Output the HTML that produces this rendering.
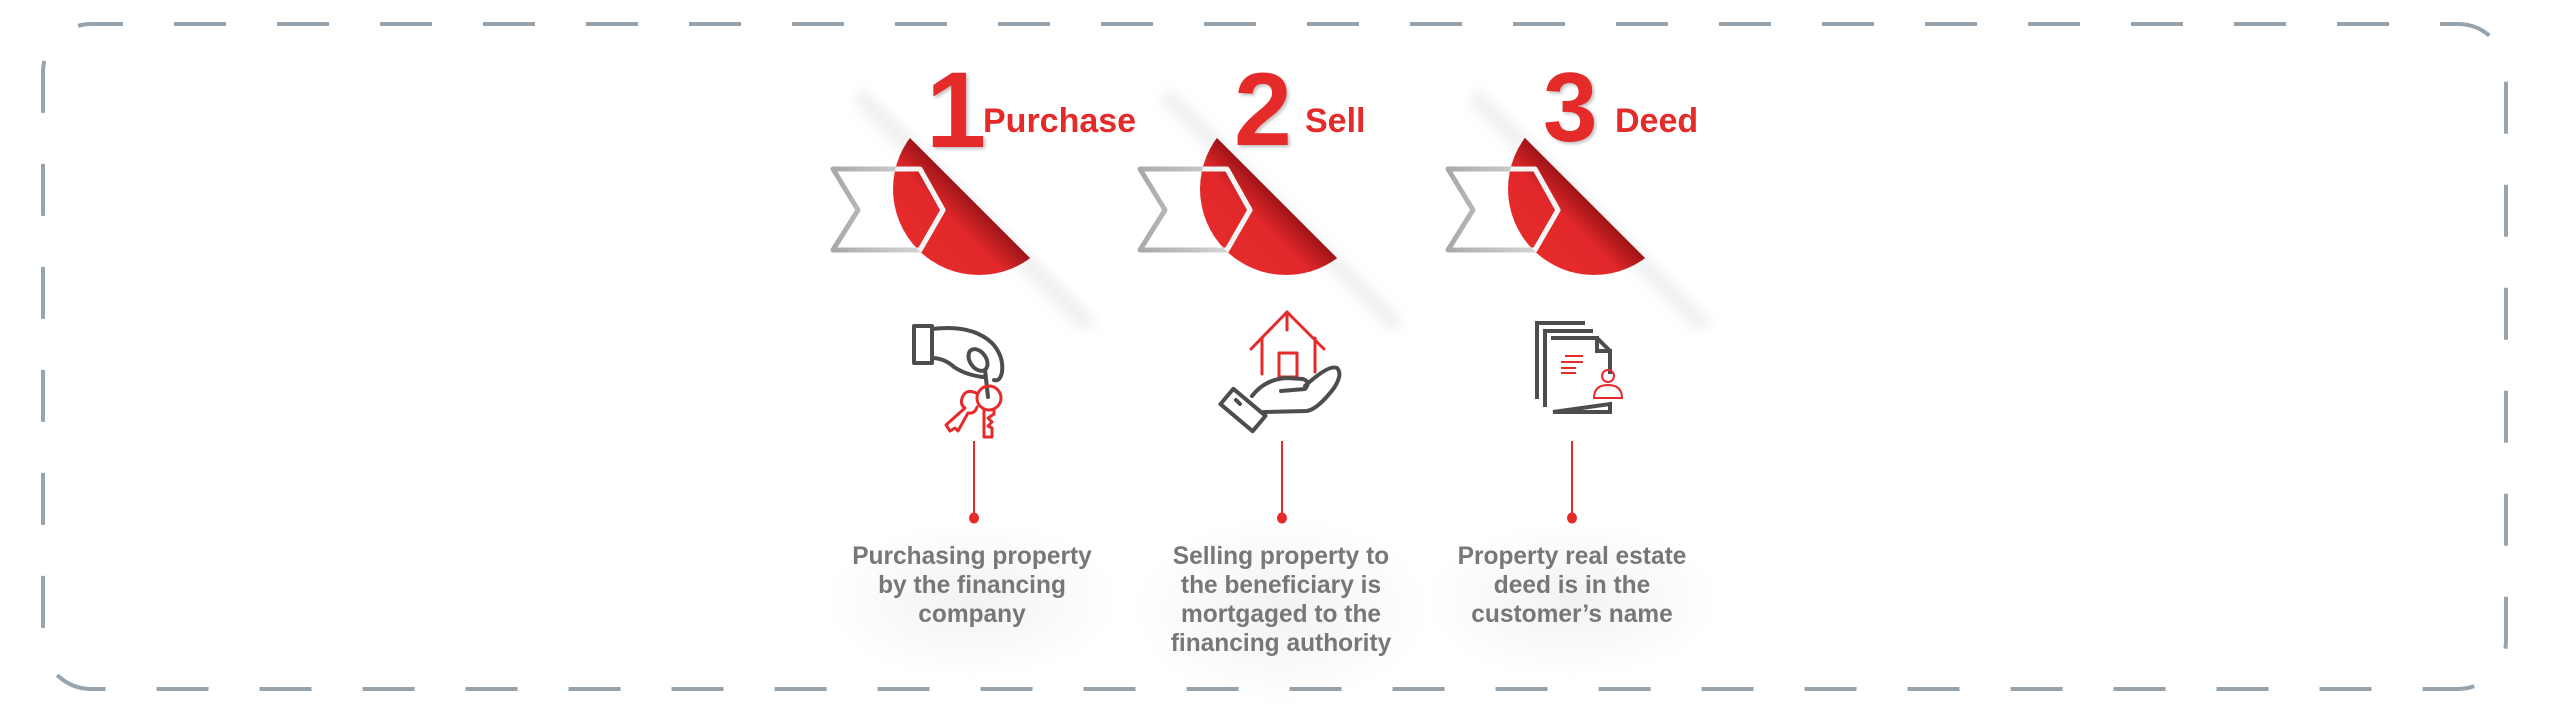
<!DOCTYPE html>
<html><head><meta charset="utf-8">
<style>
html,body{margin:0;padding:0;background:#fff;}
svg{display:block;}
text{font-family:"Liberation Sans",Arial,sans-serif;}
</style></head>
<body>
<svg width="2551" height="717" viewBox="0 0 2551 717" xmlns="http://www.w3.org/2000/svg">
<defs>
  <linearGradient id="redg" gradientUnits="userSpaceOnUse" x1="1000" y1="228" x2="955" y2="273">
    <stop offset="0" stop-color="#9e1418"/>
    <stop offset="0.45" stop-color="#e2282a"/>
    <stop offset="1" stop-color="#e52a2a"/>
  </linearGradient>
  <linearGradient id="shad" gradientUnits="userSpaceOnUse" x1="980" y1="208" x2="962" y2="226">
    <stop offset="0" stop-color="#c4c4c4" stop-opacity="0.7"/>
    <stop offset="1" stop-color="#ffffff" stop-opacity="0"/>
  </linearGradient>
  <linearGradient id="chev" gradientUnits="userSpaceOnUse" x1="833" y1="0" x2="943" y2="0">
    <stop offset="0" stop-color="#a9a9a9"/>
    <stop offset="1" stop-color="#e0e0e0"/>
  </linearGradient>
  <clipPath id="half"><polygon points="790,18 1160,388 790,388"/></clipPath>
  <clipPath id="circ"><circle cx="979" cy="189" r="86"/></clipPath>
  <radialGradient id="glow">
    <stop offset="0" stop-color="#000" stop-opacity="0.05"/>
    <stop offset="1" stop-color="#000" stop-opacity="0"/>
  </radialGradient>
  <filter id="ds" x="-20%" y="-20%" width="140%" height="140%">
    <feDropShadow dx="2" dy="2" stdDeviation="1.5" flood-color="#000" flood-opacity="0.25"/>
  </filter>
  <filter id="blur"><feGaussianBlur stdDeviation="6"/></filter>

  <g id="badge">
    <polygon points="862,90 1095,323 1077,341 844,108" fill="url(#shad)" filter="url(#blur)" opacity="0.7"/>
    <g clip-path="url(#half)">
      <circle cx="979" cy="189" r="86" fill="url(#redg)"/>
    </g>
    <path d="M833,169 L920,169 L943,210 L920,250 L833,250 L858,210 Z" fill="none" stroke="url(#chev)" stroke-width="5" stroke-linejoin="round"/>
    <g clip-path="url(#circ)">
      <g clip-path="url(#half)">
        <path d="M833,169 L920,169 L943,210 L920,250 L833,250 L858,210 Z" fill="none" stroke="#f4f4f4" stroke-width="5" stroke-linejoin="round"/>
      </g>
    </g>
  </g>
</defs>

<rect x="43" y="24" width="2463" height="665" rx="48" ry="48" fill="none" stroke="#97a3ad" stroke-width="4" stroke-dasharray="52 51" stroke-dashoffset="20"/>

<use href="#badge"/>
<use href="#badge" transform="translate(307,0)"/>
<use href="#badge" transform="translate(615,0)"/>

<g fill="#e52a2a" font-weight="bold">
  <text x="926" y="147" font-size="108" filter="url(#ds)">1</text>
  <text x="983" y="132" font-size="34">Purchase</text>
  <text x="1234" y="145" font-size="104" filter="url(#ds)">2</text>
  <text x="1305" y="132" font-size="34">Sell</text>
  <text x="1543" y="141" font-size="98" filter="url(#ds)">3</text>
  <text x="1615" y="132" font-size="34">Deed</text>
</g>

<g fill="none" stroke-linecap="round" stroke-linejoin="round">
  <g stroke="#4d4d4d" stroke-width="4">
    <rect x="914" y="326" width="18" height="37"/>
    <path d="M932,329 Q972,324 992,343 Q1004,356 1002,372 Q1000,382 994,380"/>
    <path d="M932,358 Q944,358 954,367 Q966,375 983,377"/>
    <ellipse cx="978" cy="360" rx="8" ry="12" transform="rotate(-35 978 360)"/>
    <line x1="985" y1="370" x2="988" y2="397"/>
  </g>
  <g stroke="#e52a2a" stroke-width="3">
    <circle cx="989" cy="398" r="12"/>
    <path d="M984,409 L984,437 L992,437 L992,428 L988,426 L992,422 L988,418 L994,414 L994,409"/>
    <path d="M976,393 Q966,388 962,398 Q960,405 965,408 L946,425 L950,431 L955,428 L958,431 L968,413 Q975,414 977,407"/>
  </g>
</g>

<g fill="none" stroke-linecap="round" stroke-linejoin="round">
  <g stroke="#e52a2a" stroke-width="3">
    <polyline points="1251,349 1287,312 1324,349"/>
    <line x1="1287" y1="312" x2="1287" y2="330"/>
    <line x1="1262" y1="338" x2="1262" y2="374"/>
    <line x1="1315" y1="338" x2="1315" y2="372"/>
    <rect x="1279" y="353" width="18" height="24"/>
  </g>
  <g stroke="#4d4d4d" stroke-width="4">
    <rect x="1222" y="400" width="42" height="20" transform="rotate(40 1243 410)"/>
    <line x1="1236" y1="400" x2="1240" y2="404"/>
    <path d="M1252,396 Q1265,379 1287,378 L1303,379 Q1311,382 1305,389 L1281,391"/>
    <path d="M1264,412 L1307,411 Q1318,409 1334,388 Q1343,374 1337,368 Q1329,364 1305,386"/>
  </g>
</g>

<g fill="none" stroke-linecap="square">
  <g stroke="#4d4d4d" stroke-width="4">
    <polyline points="1583,323 1537,323 1537,397"/>
    <polyline points="1591,331 1545,331 1545,405"/>
    <path d="M1553,338 L1597,338 L1610,351 L1610,372 M1610,404 L1610,412 L1553,412 Z M1597,338 L1597,351 L1610,351"/>
  </g>
  <g stroke="#e52a2a" stroke-width="2">
    <line x1="1566" y1="356" x2="1582" y2="356"/>
    <line x1="1562" y1="362" x2="1582" y2="362"/>
    <line x1="1562" y1="368" x2="1575" y2="368"/>
    <line x1="1562" y1="373" x2="1575" y2="373"/>
    <circle cx="1608" cy="376" r="6"/>
    <path d="M1594,398 Q1594,385 1608,385 Q1622,385 1622,398 Z"/>
  </g>
</g>

<g stroke="#e52a2a" stroke-width="2">
  <line x1="974" y1="441" x2="974" y2="516"/>
  <line x1="1282" y1="441" x2="1282" y2="516"/>
  <line x1="1572" y1="441" x2="1572" y2="516"/>
</g>
<g fill="#e52a2a">
  <ellipse cx="974" cy="518" rx="5" ry="5.5"/>
  <ellipse cx="1282" cy="518" rx="5" ry="5.5"/>
  <ellipse cx="1572" cy="518" rx="5" ry="5.5"/>
</g>

<ellipse cx="972" cy="600" rx="150" ry="80" fill="url(#glow)"/>
<ellipse cx="1281" cy="610" rx="150" ry="95" fill="url(#glow)"/>
<ellipse cx="1572" cy="600" rx="150" ry="80" fill="url(#glow)"/>

<g fill="#777" font-weight="bold" font-size="25" text-anchor="middle">
  <g transform="translate(972,0) scale(0.98,1)">
    <text x="0" y="564">Purchasing property</text>
    <text x="0" y="593">by the financing</text>
    <text x="0" y="622">company</text>
  </g>
  <g transform="translate(1281,0) scale(0.98,1)">
    <text x="0" y="564">Selling property to</text>
    <text x="0" y="593">the beneficiary is</text>
    <text x="0" y="622">mortgaged to the</text>
    <text x="0" y="651">financing authority</text>
  </g>
  <g transform="translate(1572,0) scale(0.98,1)">
    <text x="0" y="564">Property real estate</text>
    <text x="0" y="593">deed is in the</text>
    <text x="0" y="622">customer’s name</text>
  </g>
</g>
</svg>
</body></html>
